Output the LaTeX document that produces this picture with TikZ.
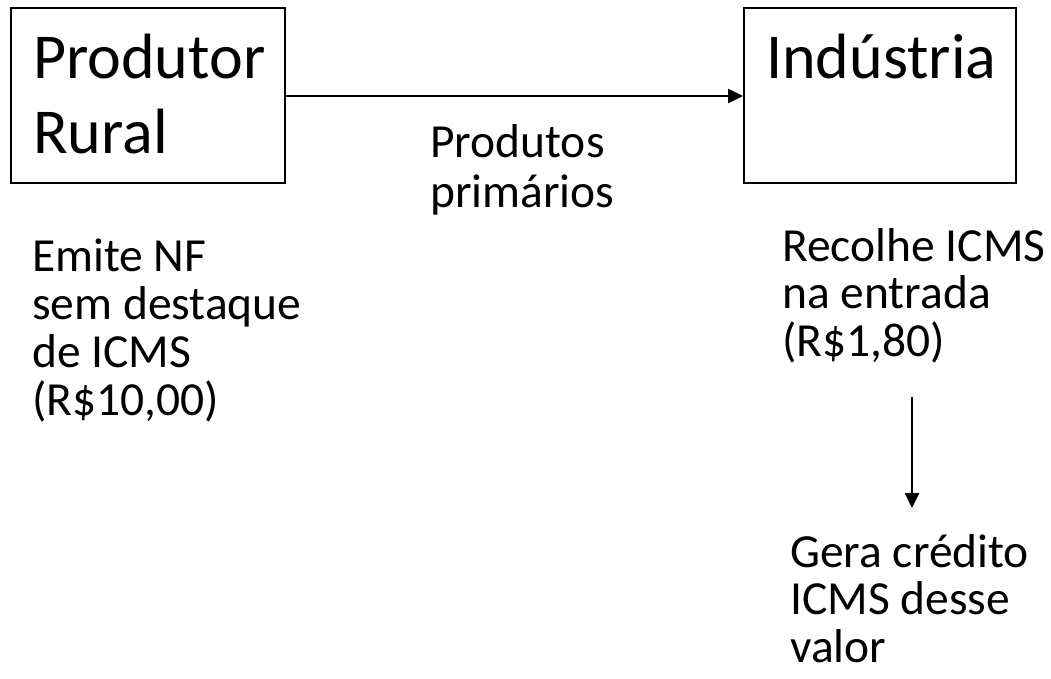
\documentclass[tikz,border=0pt]{standalone}
\usepackage{fontspec}
\setmainfont{Carlito}
\usetikzlibrary{arrows.meta}
\tikzset{
  box/.style={draw, line width=1.8pt, minimum width=274pt, minimum height=175pt, inner sep=0pt, anchor=north west},
  bigtext/.style={font=\fontsize{64}{75}\selectfont, align=left, inner sep=0pt, anchor=base west},
  smalltext/.style={font=\fontsize{47.5}{47.8}\selectfont, align=left, inner sep=0pt, anchor=base west},
  arr/.style={line width=2.5pt, -{Triangle[length=15pt,width=14pt]}}
}
\begin{document}
\begin{tikzpicture}[x=1pt,y=-1pt]
\useasboundingbox (0,0) rectangle (1051,678);
\node[box] (prod) at (10,7) {};
\node[box, minimum width=272pt] (ind) at (743,7) {};
% base anchor of a multi-line node = baseline of its last line
\node[bigtext] (prodtxt) at (33,153) {Produtor\\Rural};
\node[bigtext] (indtxt) at (766,78) {Indústria};
\node[smalltext, font=\fontsize{47.5}{50}\selectfont] (pp) at (430,207) {Produtos\\primários};
\node[smalltext] (emite) at (32,415) {Emite NF\\sem destaque\\de ICMS\\(R\$10,00)};
\node[smalltext] (recolhe) at (782,356.6) {Recolhe ICMS\\na entrada\\(R\$1,80)};
\node[smalltext] (gera) at (790,662.6) {Gera crédito\\ICMS desse\\valor};
\coordinate (a1) at (912,397);
\coordinate (a2) at (912,508);
\draw[arr] (prod.east |- 0,96) -- (ind.west |- 0,96);
\draw[arr] (a1) -- (a2);
\end{tikzpicture}
\end{document}
